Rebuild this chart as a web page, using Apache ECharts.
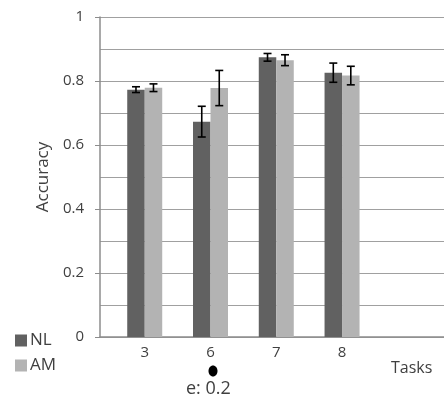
<!DOCTYPE html>
<html><head><meta charset="utf-8">
<script src="https://cdn.jsdelivr.net/npm/echarts@6/dist/echarts.min.js"></script>
<style>html,body{margin:0;padding:0;background:#fff}#c{width:444px;height:403px}</style>
</head><body><div id="c"></div>
<script>
const categories = ['3', '6', '7', '8'];
const nlValues = [0.773, 0.673, 0.874, 0.826];
const nlErrors = [0.009, 0.048, 0.012, 0.030];
const amValues = [0.779, 0.778, 0.865, 0.817];
const amErrors = [0.012, 0.055, 0.017, 0.029];
const yTicks = [0, 0.2, 0.4, 0.6, 0.8, 1];

const firstPos = 0.68;  // position of first category on the x scale (in band units)
const pos = categories.map((c, i) => firstPos + i);
const BW = 17.5;
const FONT = '"Open Sans", sans-serif';

function errSeries(name, vals, errs, dir) {
  return {
    type: 'custom', name: name + '_err', z: 10, silent: true,
    data: vals.map((v, i) => [pos[i], v - errs[i], v + errs[i]]),
    renderItem: function (params, api) {
      const lo = api.coord([api.value(0), api.value(1)]);
      const hi = api.coord([api.value(0), api.value(2)]);
      const x = lo[0] + dir * BW / 2;
      const cw = 4;
      const st = { stroke: '#000', lineWidth: 1.6 };
      return { type: 'group', children: [
        { type: 'line', shape: { x1: x, y1: hi[1], x2: x, y2: lo[1] }, style: st },
        { type: 'line', shape: { x1: x - cw, y1: hi[1], x2: x + cw, y2: hi[1] }, style: st },
        { type: 'line', shape: { x1: x - cw, y1: lo[1], x2: x + cw, y2: lo[1] }, style: st }
      ]};
    }
  };
}

const chart = echarts.init(document.getElementById('c'));
chart.setOption({
  animation: false,
  textStyle: { fontFamily: FONT },
  grid: { left: 100, right: 0, top: 17, bottom: 66 },
  legend: {
    data: ['NL', 'AM'], orient: 'vertical', left: 10, top: 327,
    itemWidth: 12, itemHeight: 12, itemGap: 8,
    icon: 'rect',
    textStyle: { fontSize: 17, color: '#404040', fontFamily: FONT, padding: [0, 0, 0, -2] }
  },
  xAxis: {
    type: 'value', min: 0, max: 5.23,
    splitLine: { show: false },
    axisLine: { show: true, lineStyle: { color: '#8c8c8c', width: 1.5 } },
    axisTick: { show: false },
    axisLabel: {
      customValues: pos, fontSize: 15, color: '#404040', margin: 8,
      formatter: function (v) {
        let best = 0;
        pos.forEach((p, i) => { if (Math.abs(p - v) < Math.abs(pos[best] - v)) best = i; });
        return categories[best];
      }
    }
  },
  yAxis: {
    type: 'value', min: 0, max: 1, interval: 0.2,
    name: 'Accuracy', nameLocation: 'middle', nameGap: 45, nameRotate: 90,
    nameTextStyle: { fontSize: 17, color: '#404040' },
    axisLine: { show: true, lineStyle: { color: '#8c8c8c', width: 1.5 } },
    axisTick: { show: true, length: 5, lineStyle: { color: '#8c8c8c' } },
    axisLabel: { fontSize: 15, color: '#404040', margin: 16,
      formatter: function (v) { return String(+v.toFixed(1)); } },
    splitLine: { show: true, lineStyle: { color: '#a0a0a0', width: 1.2 } },
    minorTick: { show: false, splitNumber: 2 },
    minorSplitLine: { show: true, lineStyle: { color: '#a0a0a0', width: 1.2 } }
  },
  series: [
    { type: 'bar', name: 'NL', barWidth: BW, barGap: '0%',
      itemStyle: { color: '#616161' },
      data: nlValues.map((v, i) => [pos[i], v]) },
    { type: 'bar', name: 'AM', barWidth: BW, barGap: '0%',
      itemStyle: { color: '#b3b3b3' },
      data: amValues.map((v, i) => [pos[i], v]) },
    errSeries('NL', nlValues, nlErrors, -1),
    errSeries('AM', amValues, amErrors, 1)
  ],
  graphic: [
    { type: 'text', left: 391, top: 360, style: { text: 'Tasks', fontSize: 16, fill: '#404040', fontFamily: FONT } },
    { type: 'ellipse', shape: { cx: 213, cy: 371, rx: 4.5, ry: 5.5 }, style: { fill: '#000' } },
    { type: 'text', left: 186, top: 380, style: { text: 'e: 0.2', fontSize: 18, fill: '#404040', fontFamily: FONT } }
  ]
});
</script></body></html>
